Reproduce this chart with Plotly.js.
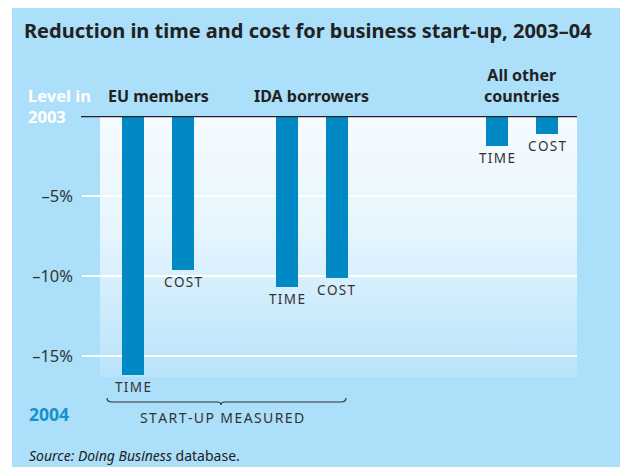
<!DOCTYPE html>
<html>
<head>
<meta charset="utf-8">
<script src="https://cdn.plot.ly/plotly-3.0.1.min.js"></script>
<style>html,body{margin:0;padding:0;background:#fff;}#chart{width:620px;height:467px;}</style>
</head>
<body>
<div id="chart"></div>
<script>
// ---- data ----
const groups = ['EU members', 'IDA borrowers', 'All other<br>countries'];
const measures = ['TIME', 'COST'];
const timeVals = [-16.2, -10.7, -1.9];
const costVals = [-9.6, -10.1, -1.1];
const tickVals = [-5, -10, -15];
const tickText = ['–5%', '–10%', '–15%'];
const titleText = 'Reduction in time and cost for business start-up, 2003–04';
const sourceText = '<i>Source: Doing Business</i> database.';
const bracketText = 'START-UP MEASURED';
const topLevelText = 'Level in<br>2003';
const bottomLevelText = '2004';

// ---- layout constants ----
const W = 620, H = 467;
const L = 82, R = 577, T = 116, B = 377;
const groupCenters = [1.52, 4.59, 8.8];
const offset = 0.5;
const barColor = '#0089c4';
const bgBlue = '#acdff9';
const px = x => (x - L) / (R - L);
const py = y => (B - y) / (B - T);
const spaced = s => s.split('').join('\u200A');
const font = 'Noto Sans, Open Sans, sans-serif';

const xs = [], ys = [], labs = [];
groups.forEach((g, i) => {
  xs.push(groupCenters[i] - offset, groupCenters[i] + offset);
  ys.push(timeVals[i], costVals[i]);
  labs.push(measures[0], measures[1]);
});

const trace = {
  type: 'bar', x: xs, y: ys, width: 0.44,
  marker: {color: barColor, line: {width: 0}},
  hoverinfo: 'none'
};

const annotations = [];
xs.forEach((x, i) => {
  annotations.push({
    xref: 'x', yref: 'y', x: x, y: ys[i], text: spaced(labs[i]),
    showarrow: false, yanchor: 'top', yshift: -1,
    font: {family: font, size: 13.5, color: '#333'}
  });
});
groups.forEach((g, i) => {
  annotations.push({
    xref: 'x', yref: 'paper', x: groupCenters[i], y: py(109), text: g,
    showarrow: false, yanchor: 'bottom', xanchor: 'center',
    font: {family: font, size: 16, color: '#222', weight: 700}
  });
});
annotations.push(
  {xref: 'paper', yref: 'paper', x: px(22), y: py(30), text: titleText, showarrow: false,
   xanchor: 'left', yanchor: 'middle', font: {family: font, size: 20, color: '#222', weight: 700}},
  {xref: 'paper', yref: 'paper', x: px(26), y: py(106), text: topLevelText, showarrow: false,
   xanchor: 'left', yanchor: 'middle', align: 'left',
   font: {family: font, size: 16.5, color: '#fff', weight: 700}},
  {xref: 'paper', yref: 'paper', x: px(27), y: py(414), text: bottomLevelText, showarrow: false,
   xanchor: 'left', yanchor: 'middle', font: {family: font, size: 17.5, color: '#1690cf', weight: 700}},
  {xref: 'paper', yref: 'paper', x: px(222), y: py(417), text: spaced(bracketText), showarrow: false,
   xanchor: 'center', yanchor: 'middle', font: {family: font, size: 14, color: '#333'}},
  {xref: 'paper', yref: 'paper', x: px(27), y: py(455), text: sourceText, showarrow: false,
   xanchor: 'left', yanchor: 'middle', font: {family: font, size: 14, color: '#222'}}
);

// brace path in paper coordinates
const bx0 = px(107), bx1 = px(346), bxm = px(221);
const yl = py(402), ye = py(398), yt = py(405);
const bpath = `M${bx0},${ye} Q${bx0},${yl} ${px(112)},${yl} L${px(217)},${yl} Q${bxm},${yl} ${bxm},${yt} Q${bxm},${yl} ${px(225)},${yl} L${px(341)},${yl} Q${bx1},${yl} ${bx1},${ye}`;

const grad = "<svg xmlns='http://www.w3.org/2000/svg' width='100' height='100' preserveAspectRatio='none'><defs><linearGradient id='g' x1='0' y1='0' x2='0' y2='1'><stop offset='0' stop-color='#f6fbff'/><stop offset='0.45' stop-color='#e6f5fe'/><stop offset='1' stop-color='#b8e3fa'/></linearGradient></defs><rect width='100' height='100' fill='url(#g)'/></svg>";

const layout = {
  width: W, height: H,
  margin: {l: L, r: W - R, t: T, b: H - B, pad: 0},
  paper_bgcolor: bgBlue, plot_bgcolor: 'rgba(0,0,0,0)',
  showlegend: false,
  xaxis: {visible: false, range: [0, 9.9], fixedrange: true},
  yaxis: {range: [-16.3125, 0], tickvals: tickVals, ticktext: tickText, showgrid: true,
          gridcolor: 'rgba(255,255,255,0.95)', gridwidth: 2, zeroline: false, showline: false,
          ticks: '', ticklabelstandoff: 8,
          tickfont: {family: font, size: 16.5, color: '#333'}, fixedrange: true},
  images: [{source: 'data:image/svg+xml;charset=utf-8,' + encodeURIComponent(grad),
            xref: 'paper', yref: 'paper', x: px(100), y: 1, sizex: 1 - px(100), sizey: 1,
            sizing: 'stretch', xanchor: 'left', yanchor: 'top', layer: 'below'}],
  shapes: [
    {type: 'rect', xref: 'paper', yref: 'paper', x0: px(0), x1: px(W), y0: py(8), y1: py(0),
     fillcolor: '#fff', line: {width: 0}, layer: 'below'},
    {type: 'rect', xref: 'paper', yref: 'paper', x0: px(0), x1: px(12), y0: py(H), y1: py(0),
     fillcolor: '#fff', line: {width: 0}, layer: 'below'},
    {type: 'line', xref: 'paper', yref: 'y', x0: px(81), x1: 1, y0: 0, y1: 0,
     line: {color: '#222', width: 2.5}, layer: 'above'},
    {type: 'path', xref: 'paper', yref: 'paper', path: bpath,
     line: {color: '#333', width: 1.2}, layer: 'above'}
  ],
  annotations: annotations,
  bargap: 0
};

Plotly.newPlot('chart', [trace], layout, {staticPlot: true, displayModeBar: false});
</script>
</body>
</html>
